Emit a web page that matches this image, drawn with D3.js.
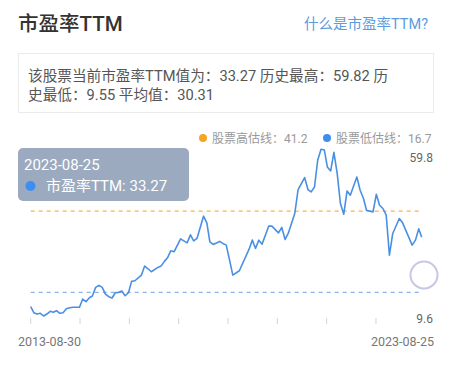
<!DOCTYPE html>
<html><head><meta charset="utf-8">
<script src="https://cdn.jsdelivr.net/npm/d3@7/dist/d3.min.js"></script>
<style>
html,body{margin:0;padding:0;background:#fff;}
svg{display:block;font-family:Roboto,"Noto Sans CJK SC",sans-serif;}
</style></head><body>
<svg id="c" width="456" height="365"></svg>
<script>
const dates = ["2013-08-30","2013-09-28","2013-10-28","2013-11-28","2013-12-28","2014-01-28","2014-02-28","2014-03-28","2014-04-28","2014-05-28","2014-06-28","2014-07-28","2014-08-28","2014-09-28","2014-11-28","2014-12-28","2015-01-28","2015-02-28","2015-03-28","2015-04-28","2015-05-28","2015-06-28","2015-07-28","2015-08-28","2015-09-28","2015-10-28","2015-11-28","2015-12-28","2016-01-28","2016-02-28","2016-03-28","2016-04-28","2016-06-28","2016-07-28","2016-08-28","2016-09-28","2016-11-28","2016-12-28","2017-01-28","2017-02-28","2017-03-28","2017-04-28","2017-06-28","2017-08-28","2017-09-28","2017-10-28","2017-11-28","2018-01-28","2018-02-28","2018-03-28","2018-04-28","2018-06-28","2018-07-28","2018-08-28","2018-09-28","2018-10-28","2018-12-28","2019-03-28","2019-04-28","2019-05-28","2019-06-28","2019-07-28","2019-09-28","2019-10-28","2019-12-28","2020-01-28","2020-02-28","2020-03-28","2020-05-28","2020-06-28","2020-08-28","2020-09-28","2020-10-28","2020-11-28","2020-12-28","2021-01-28","2021-02-28","2021-03-28","2021-04-28","2021-05-28","2021-06-28","2021-07-28","2021-08-28","2021-09-28","2021-10-28","2021-12-28","2022-01-28","2022-02-28","2022-03-28","2022-05-28","2022-06-28","2022-07-28","2022-08-28","2022-09-28","2022-10-28","2022-11-28","2023-01-28","2023-02-28","2023-05-28","2023-06-28","2023-07-28","2023-08-25"];
const peValues = [12.35,10.54,10.15,10.36,9.55,10.15,10.96,10.66,11.15,10.36,10.54,11.75,12.05,12.17,12.17,14.67,13.85,15.06,15.57,18.19,18.79,18.19,16.17,15.36,14.97,16.56,16.68,17.08,15.66,16.56,20.0,20.18,21.89,24.6,23.79,22.89,24.21,24.6,26.02,27.22,29.21,28.91,32.82,31.61,34.02,32.22,32.94,39.65,37.64,31.92,31.13,32.04,31.43,30.92,26.41,21.89,23.19,29.63,32.43,29.93,32.43,31.22,36.64,36.64,34.63,36.25,32.64,34.44,40.46,47.69,51.3,47.69,46.97,48.47,56.51,59.82,59.6,54.49,53.29,58.92,52.51,43.48,40.25,47.27,45.97,51.48,47.48,44.98,41.46,40.95,46.27,42.96,41.97,39.95,27.91,34.44,38.96,37.64,30.92,32.43,35.83,33.27];
const highLine = 41.2;
const lowLine = 16.7;
const peCurrent = 33.27, peMax = 59.82, peMin = 9.55, peAvg = 30.31;
const xTickCount = 8;

const parse = d3.timeParse("%Y-%m-%d");
const data = dates.map((d,i)=>({date:parse(d), v:peValues[i]}));
const svg = d3.select("#c");

// header
svg.append("text").attr("x",18).attr("y",31).attr("font-size",20.5).attr("font-weight",500)
  .attr("fill","#333").text("市盈率TTM");
svg.append("text").attr("x",428).attr("y",29).attr("text-anchor","end").attr("font-size",14.5)
  .attr("fill","#5b9be0").text("什么是市盈率TTM?");

// info box
svg.append("rect").attr("x",18.5).attr("y",53.5).attr("width",415).attr("height",59)
  .attr("fill","#fff").attr("stroke","#ebebeb");
const info = svg.append("text").attr("font-size",14.65).attr("fill","#555");
info.append("tspan").attr("x",28).attr("y",81)
  .text(`该股票当前市盈率TTM值为：${peCurrent} 历史最高：${peMax} 历`);
info.append("tspan").attr("x",28).attr("y",100)
  .text(`史最低：${peMin} 平均值：${peAvg}`);

// scales
const x = d3.scaleTime().domain(d3.extent(data,d=>d.date)).range([30.7,421.7]);
const y = d3.scaleLinear().domain([d3.min(peValues), d3.max(peValues)]).range([316,149.3]);

// legend
const lg = svg.append("g").attr("font-size",12).attr("fill","#999");
lg.append("circle").attr("cx",203).attr("cy",138).attr("r",4).attr("fill","#f5a623");
lg.append("text").attr("x",212).attr("y",142.5).text(`股票高估线：${highLine}`);
lg.append("circle").attr("cx",327).attr("cy",138).attr("r",4).attr("fill","#3d8ef0");
lg.append("text").attr("x",336).attr("y",142.5).text(`股票低估线：${lowLine}`);

// ref lines
svg.append("line").attr("x1",x.range()[0]).attr("x2",x.range()[1])
  .attr("y1",y(highLine)).attr("y2",y(highLine))
  .attr("stroke","#f5b54a").attr("stroke-width",1.2).attr("stroke-dasharray","4,4");
svg.append("line").attr("x1",x.range()[0]).attr("x2",x.range()[1])
  .attr("y1",y(lowLine)).attr("y2",y(lowLine))
  .attr("stroke","#8fb1ea").attr("stroke-width",1.2).attr("stroke-dasharray","4,4");

// ticks
const tickScale = d3.scaleLinear().domain([0,xTickCount]).range([30.7,425.3]);
svg.append("g").selectAll("line").data(d3.range(xTickCount)).join("line")
  .attr("x1",d=>tickScale(d)).attr("x2",d=>tickScale(d)).attr("y1",318).attr("y2",324)
  .attr("stroke","#d5d5d5").attr("stroke-width",1);

// line
svg.append("path").datum(data).attr("fill","none").attr("stroke","#4a90e2")
  .attr("stroke-width",1.6).attr("stroke-linejoin","round")
  .attr("d", d3.line().x(d=>x(d.date)).y(d=>y(d.v)));

// y labels
const fmt = d3.format(".1f");
svg.append("text").attr("x",433).attr("y",162).attr("text-anchor","end").attr("font-size",12)
  .attr("fill","#666").text(fmt(d3.max(peValues)));
svg.append("text").attr("x",433).attr("y",323).attr("text-anchor","end").attr("font-size",12)
  .attr("fill","#666").text(fmt(d3.min(peValues)));

// x labels
svg.append("text").attr("x",18).attr("y",345.5).attr("font-size",12.5).attr("fill","#777")
  .text(dates[0]);
svg.append("text").attr("x",434).attr("y",345.5).attr("text-anchor","end").attr("font-size",12.5)
  .attr("fill","#777").text(dates[dates.length-1]);

// touch circle
svg.append("circle").attr("cx",424).attr("cy",275).attr("r",13.5).attr("fill","none")
  .attr("stroke","#c9c5e6").attr("stroke-width",2);

// tooltip
const tt = svg.append("g");
tt.append("rect").attr("x",18).attr("y",148).attr("width",171).attr("height",53).attr("rx",5)
  .attr("fill","#93a3b9").attr("opacity",0.92);
tt.append("text").attr("x",24).attr("y",170).attr("font-size",15).attr("fill","#fff")
  .text(dates[dates.length-1]);
tt.append("circle").attr("cx",30.5).attr("cy",186).attr("r",5).attr("fill","#3d8ef0");
tt.append("text").attr("x",46).attr("y",191).attr("font-size",15).attr("fill","#fff")
  .text(`市盈率TTM: ${peCurrent}`);
</script>
</body></html>
